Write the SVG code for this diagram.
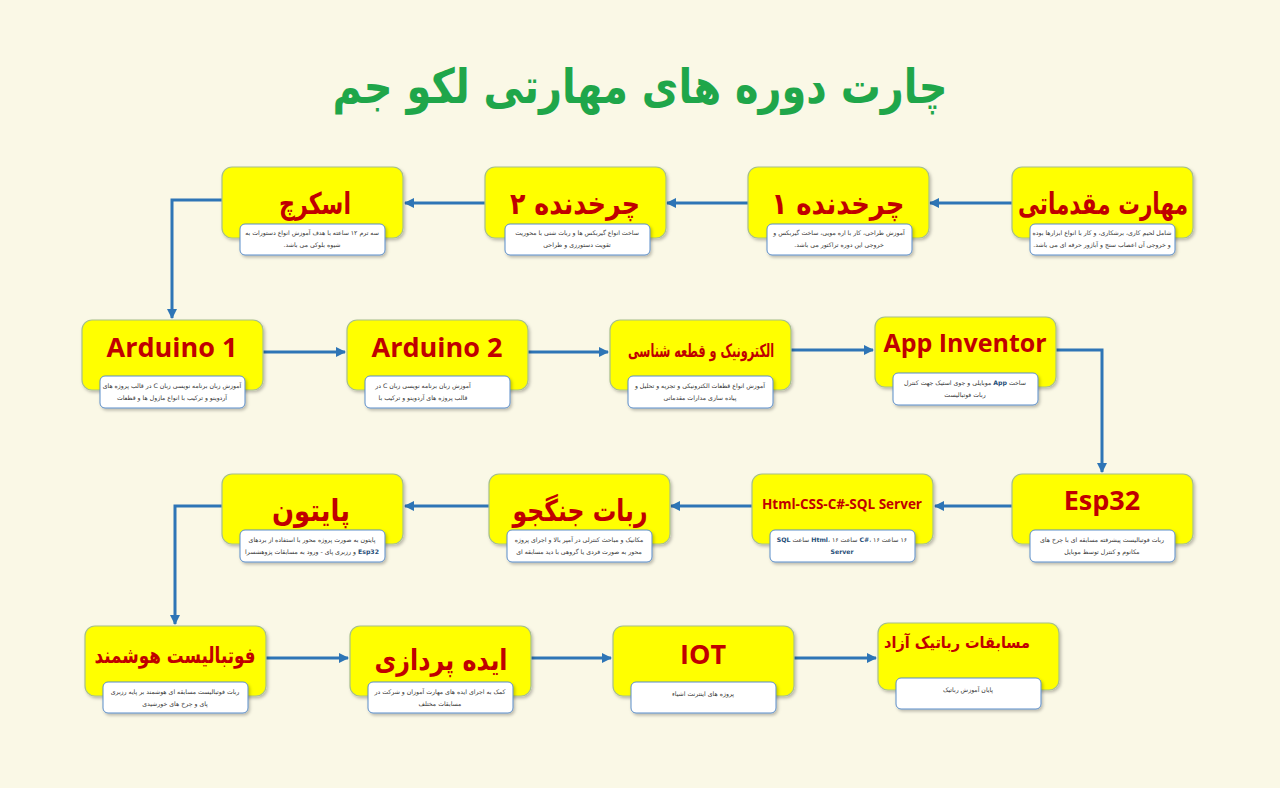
<svg xmlns="http://www.w3.org/2000/svg" width="1280" height="788" viewBox="0 0 1280 788">
<defs>
<marker id="ah" markerWidth="10" markerHeight="10" refX="9" refY="5" orient="auto" markerUnits="userSpaceOnUse">
<path d="M0,0 L10,5 L0,10 Z" fill="#2E75B6"/>
</marker>
<filter id="sh" x="-10%" y="-10%" width="130%" height="140%">
<feDropShadow dx="1.5" dy="2" stdDeviation="1.5" flood-color="#000" flood-opacity="0.25"/>
</filter>
<style>
.box{fill:#FFFF00;stroke:#A7C08A;stroke-width:1.2;filter:url(#sh)}
.desc{fill:#FFFFFF;stroke:#5B8DC9;stroke-width:1;filter:url(#sh)}
.lbl{font-family:"DejaVu Sans",sans-serif;font-weight:bold;fill:#C00000;text-anchor:middle;direction:rtl}
.en{font-family:"Open Sans","DejaVu Sans",sans-serif;font-weight:bold;fill:#C00000;text-anchor:middle}
.d{font-family:"DejaVu Sans",sans-serif;font-size:6.2px;fill:#333;text-anchor:middle;direction:rtl}
.b{font-weight:bold;fill:#1F4E79}
.c{fill:none;stroke:#2E75B6;stroke-width:3;marker-end:url(#ah)}
</style>
</defs>
<rect width="1280" height="788" fill="#FAF8E6"/>
<text x="640" y="103" font-family="DejaVu Sans,sans-serif" font-weight="bold" font-size="48" fill="#1FA64A" text-anchor="middle" direction="rtl" textLength="615" lengthAdjust="spacingAndGlyphs">چارت دوره های مهارتی لکو جم</text>

<g id="connectors">
<path class="c" d="M1012,203 L930,203"/>
<path class="c" d="M748,203 L667,203"/>
<path class="c" d="M485,203 L405,203"/>
<path class="c" d="M222,200 L172,200 L172,318"/>
<path class="c" d="M263,352 L345,352"/>
<path class="c" d="M527,352 L608,352"/>
<path class="c" d="M791,350 L873,350"/>
<path class="c" d="M1055,350 L1102,350 L1102,472"/>
<path class="c" d="M1012,506 L935,506"/>
<path class="c" d="M752,506 L671,506"/>
<path class="c" d="M489,506 L405,506"/>
<path class="c" d="M222,506 L175,506 L175,624"/>
<path class="c" d="M266,658 L348,658"/>
<path class="c" d="M531,658 L611,658"/>
<path class="c" d="M794,658 L876,658"/>
</g>

<g id="n1">
<rect class="box" x="1012" y="167" width="181" height="71" rx="10"/>
<text class="lbl" x="1103" y="214" font-size="30" textLength="170" lengthAdjust="spacingAndGlyphs">مهارت مقدماتی</text>
<rect class="desc" x="1030" y="224" width="145" height="31" rx="5"/>
<text class="d" x="1102" y="235">شامل لحیم کاری، برشکاری، و کار با انواع ابزارها بوده</text>
<text class="d" x="1102" y="247">و خروجی آن اعصاب سنج و آباژور حرفه ای می باشد.</text>
</g>
<g id="n2">
<rect class="box" x="748" y="167" width="181" height="71" rx="10"/>
<text class="lbl" x="838" y="214" font-size="30" textLength="133" lengthAdjust="spacingAndGlyphs">چرخدنده ۱</text>
<rect class="desc" x="767" y="224" width="145" height="31" rx="5"/>
<text class="d" x="839" y="235">آموزش طراحی، کار با اره مویی، ساخت گیربکس و</text>
<text class="d" x="839" y="247">خروجی این دوره تراکتور می باشد.</text>
</g>
<g id="n3">
<rect class="box" x="485" y="167" width="181" height="71" rx="10"/>
<text class="lbl" x="575" y="214" font-size="30" textLength="130" lengthAdjust="spacingAndGlyphs">چرخدنده ۲</text>
<rect class="desc" x="505" y="224" width="145" height="31" rx="5"/>
<text class="d" x="577" y="235">ساخت انواع گیربکس ها و ربات شنی با محوریت</text>
<text class="d" x="577" y="247">تقویت دستورزی و طراحی</text>
</g>
<g id="n4">
<rect class="box" x="222" y="167" width="181" height="71" rx="10"/>
<text class="lbl" x="315" y="214" font-size="30" textLength="72" lengthAdjust="spacingAndGlyphs">اسکرچ</text>
<rect class="desc" x="240" y="224" width="145" height="31" rx="5"/>
<text class="d" x="312" y="235">سه ترم ۱۲ ساعته با هدف آموزش انواع دستورات به</text>
<text class="d" x="312" y="247">شیوه بلوکی می باشد.</text>
</g>

<g id="n5">
<rect class="box" x="82" y="320" width="181" height="70" rx="10"/>
<text class="en" x="172" y="357" font-size="27">Arduino 1</text>
<rect class="desc" x="100" y="376" width="145" height="32" rx="5"/>
<text class="d" x="172" y="388">آموزش زبان برنامه نویسی زبان C در قالب پروژه های</text>
<text class="d" x="172" y="400">آردوینو و ترکیب با انواع ماژول ها و قطعات</text>
</g>
<g id="n6">
<rect class="box" x="347" y="320" width="181" height="70" rx="10"/>
<text class="en" x="437" y="357" font-size="27">Arduino 2</text>
<rect class="desc" x="365" y="376" width="145" height="32" rx="5"/>
<text class="d" x="423" y="388">آموزش زبان برنامه نویسی زبان C در</text>
<text class="d" x="423" y="400">قالب پروژه های  آردوینو و ترکیب با</text>
</g>
<g id="n7">
<rect class="box" x="610" y="320" width="181" height="70" rx="10"/>
<text class="lbl" x="701" y="357" font-size="18" textLength="146" lengthAdjust="spacingAndGlyphs">الکترونیک و قطعه شناسی</text>
<rect class="desc" x="628" y="376" width="145" height="32" rx="5"/>
<text class="d" x="700" y="388">آموزش انواع قطعات الکترونیکی و تجزیه و تحلیل و</text>
<text class="d" x="700" y="400">پیاده سازی مدارات مقدماتی</text>
</g>
<g id="n8">
<rect class="box" x="875" y="317" width="181" height="70" rx="10"/>
<text class="en" x="965" y="352" font-size="25">App Inventor</text>
<rect class="desc" x="893" y="373" width="145" height="32" rx="5"/>
<text class="d" x="965" y="385">ساخت <tspan class="b">App</tspan> موبایلی و جوی استیک جهت کنترل</text>
<text class="d" x="965" y="397">ربات فوتبالیست</text>
</g>

<g id="n9">
<rect class="box" x="1012" y="474" width="181" height="70" rx="10"/>
<text class="en" x="1102" y="510" font-size="27">Esp32</text>
<rect class="desc" x="1030" y="530" width="145" height="32" rx="5"/>
<text class="d" x="1102" y="542">ربات فوتبالیست پیشرفته مسابقه ای با چرخ های</text>
<text class="d" x="1102" y="554">مکانوم و کنترل توسط موبایل</text>
</g>
<g id="n10">
<rect class="box" x="752" y="474" width="181" height="70" rx="10"/>
<text class="en" x="842" y="509" font-size="13.5">Html-CSS-C#-SQL Server</text>
<rect class="desc" x="770" y="530" width="145" height="32" rx="5"/>
<text class="d" x="842" y="542">۱۶ ساعت <tspan class="b">C#</tspan>، ۱۶ ساعت <tspan class="b">Html</tspan>، ۱۶ ساعت  <tspan class="b">SQL</tspan></text>
<text class="d b" x="842" y="554">Server</text>
</g>
<g id="n11">
<rect class="box" x="489" y="474" width="181" height="70" rx="10"/>
<text class="lbl" x="580" y="521" font-size="30" textLength="135" lengthAdjust="spacingAndGlyphs">ربات جنگجو</text>
<rect class="desc" x="507" y="530" width="145" height="32" rx="5"/>
<text class="d" x="579" y="542">مکانیک و مباحث کنترلی در آمپر بالا و اجرای پروژه</text>
<text class="d" x="579" y="554">محور به صورت فردی یا گروهی با دید مسابقه ای</text>
</g>
<g id="n12">
<rect class="box" x="222" y="474" width="181" height="70" rx="10"/>
<text class="lbl" x="311" y="521" font-size="30" textLength="78" lengthAdjust="spacingAndGlyphs">پایتون</text>
<rect class="desc" x="240" y="530" width="145" height="32" rx="5"/>
<text class="d" x="312" y="542">پایتون به صورت پروژه محور با استفاده از بردهای</text>
<text class="d" x="312" y="554"><tspan class="b">Esp32</tspan> و رزبری پای - ورود به مسابقات پژوهشسرا</text>
</g>

<g id="n13">
<rect class="box" x="85" y="626" width="181" height="70" rx="10"/>
<text class="lbl" x="175" y="663" font-size="22" textLength="161" lengthAdjust="spacingAndGlyphs">فوتبالیست هوشمند</text>
<rect class="desc" x="103" y="682" width="145" height="31" rx="5"/>
<text class="d" x="175" y="694">ربات فوتبالیست مسابقه ای هوشمند بر پایه رزبری</text>
<text class="d" x="175" y="706">پای و چرخ های خورشیدی</text>
</g>
<g id="n14">
<rect class="box" x="350" y="626" width="181" height="70" rx="10"/>
<text class="lbl" x="441" y="670" font-size="29" textLength="133" lengthAdjust="spacingAndGlyphs">ایده پردازی</text>
<rect class="desc" x="368" y="682" width="145" height="31" rx="5"/>
<text class="d" x="440" y="694">کمک به اجرای ایده های مهارت آموزان و شرکت در</text>
<text class="d" x="440" y="706">مسابقات مختلف</text>
</g>
<g id="n15">
<rect class="box" x="613" y="626" width="181" height="70" rx="10"/>
<text class="en" x="703" y="664" font-size="27">IOT</text>
<rect class="desc" x="631" y="682" width="145" height="31" rx="5"/>
<text class="d" x="703" y="696">پروژه های اینترنت اشیاء</text>
</g>
<g id="n16">
<rect class="box" x="878" y="623" width="181" height="67" rx="10"/>
<text class="lbl" x="957" y="648" font-size="16" textLength="146" lengthAdjust="spacingAndGlyphs">مسابقات رباتیک آزاد</text>
<rect class="desc" x="896" y="678" width="145" height="31" rx="5"/>
<text class="d" x="968" y="692">پایان آموزش رباتیک</text>
</g>
</svg>
